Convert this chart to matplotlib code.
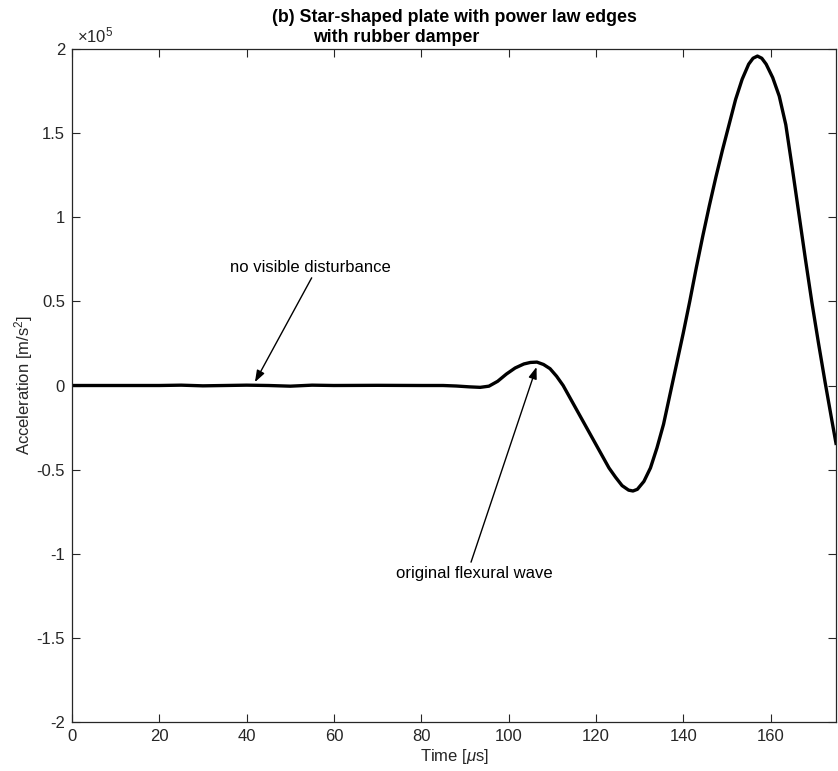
import numpy as np
import matplotlib
matplotlib.use("Agg")
import matplotlib.pyplot as plt
from matplotlib.ticker import FuncFormatter, MultipleLocator

# Time axis [us] and acceleration (units of 1e5 m/s^2)
time_us = [0, 10, 20, 25, 30, 40, 45, 50, 55, 60, 70, 80, 85, 88, 91, 93.5,
           95.5, 97.5, 99.5, 101.5, 103.5, 105, 106.5, 108, 109.5, 111, 112.5,
           114, 115.5, 117, 118.5, 120, 121.5, 123, 124.5, 126, 127.5, 128.5,
           129.5, 131, 132.5, 134, 135.5, 137, 138.5, 140, 141.5, 143, 144.5,
           146, 147.5, 149, 150.5, 152, 153.5, 155, 156, 157, 158, 159, 160.5,
           162, 163.5, 165, 166.5, 168, 169.5, 171, 172.5, 174, 175]
accel_e5 = [0, 0, 0, 0.002, -0.002, 0.002, 0.0, -0.004, 0.002, 0.0, 0.001, 0,
            0, -0.003, -0.008, -0.011, -0.004, 0.025, 0.068, 0.104, 0.128,
            0.137, 0.139, 0.125, 0.100, 0.055, 0.0, -0.07, -0.14, -0.21, -0.28,
            -0.35, -0.42, -0.49, -0.545, -0.595, -0.622, -0.627, -0.617, -0.57,
            -0.49, -0.37, -0.23, -0.05, 0.13, 0.31, 0.50, 0.70, 0.89, 1.07,
            1.24, 1.40, 1.55, 1.70, 1.82, 1.91, 1.945, 1.958, 1.945, 1.91,
            1.83, 1.72, 1.55, 1.29, 1.02, 0.75, 0.49, 0.25, 0.02, -0.2, -0.344]

title_lines = ["(b) Star-shaped plate with power law edges", "with rubber damper"]

plt.rcParams["font.family"] = ["Liberation Sans", "DejaVu Sans"]
plt.rcParams["mathtext.fontset"] = "custom"
plt.rcParams["mathtext.rm"] = "Liberation Sans"
plt.rcParams["mathtext.it"] = "Liberation Sans:italic"

fig = plt.figure(figsize=(8.38, 7.71), dpi=100)
ax = fig.add_axes([72/838, 1 - 722/771, (836 - 72)/838, (722 - 49)/771])

t = np.array(time_us)
a = np.array(accel_e5) * 1e5
ax.plot(t, a, color="black", lw=2.4, solid_joinstyle="round")

ax.set_xlim(0, 175)
ax.set_ylim(-2e5, 2e5)
ax.xaxis.set_major_locator(MultipleLocator(20))
ax.yaxis.set_major_locator(MultipleLocator(0.5e5))
ax.yaxis.set_major_formatter(FuncFormatter(lambda v, p: f"{v/1e5:g}".replace("\u2212", "-")))

frame = "#262626"
for s in ax.spines.values():
    s.set_color(frame)
    s.set_linewidth(0.9)
ax.tick_params(direction="in", length=6, width=0.8, color=frame,
               top=True, right=True, labelsize=12, labelcolor="#262626", pad=5)

ax.set_xlabel(r"Time [$\mu$s]", fontsize=12, color="#262626", labelpad=2)
ax.set_ylabel(r"Acceleration [m/s$^2$]", fontsize=12, color="#262626", labelpad=1)

ax.text(0.006, 1.006, r"$\times10^{5}$", transform=ax.transAxes,
        fontsize=12, color="#262626", ha="left", va="bottom")

fig.text(454/838, 1 - 17/771, title_lines[0], ha="center", va="center",
         fontsize=12.8, weight="bold")
fig.text(396/838, 1 - 38/771, title_lines[1], ha="center", va="center",
         fontsize=12.8, weight="bold")

# annotations
ax.text(54.5, 0.70e5, "no visible disturbance", ha="center", va="center", fontsize=12)
ax.annotate("", xy=(41.9, 0.02e5), xytext=(54.9, 0.64e5),
            arrowprops=dict(arrowstyle="-|>,head_length=0.7,head_width=0.25",
                            lw=1.0, color="black", shrinkA=0, shrinkB=0))
ax.text(92.1, -1.12e5, "original flexural wave", ha="center", va="center", fontsize=12)
ax.annotate("", xy=(106.4, 0.11e5), xytext=(91.4, -1.05e5),
            arrowprops=dict(arrowstyle="-|>,head_length=0.7,head_width=0.25",
                            lw=1.0, color="black", shrinkA=0, shrinkB=0))

fig.savefig("out.png", dpi=100)
